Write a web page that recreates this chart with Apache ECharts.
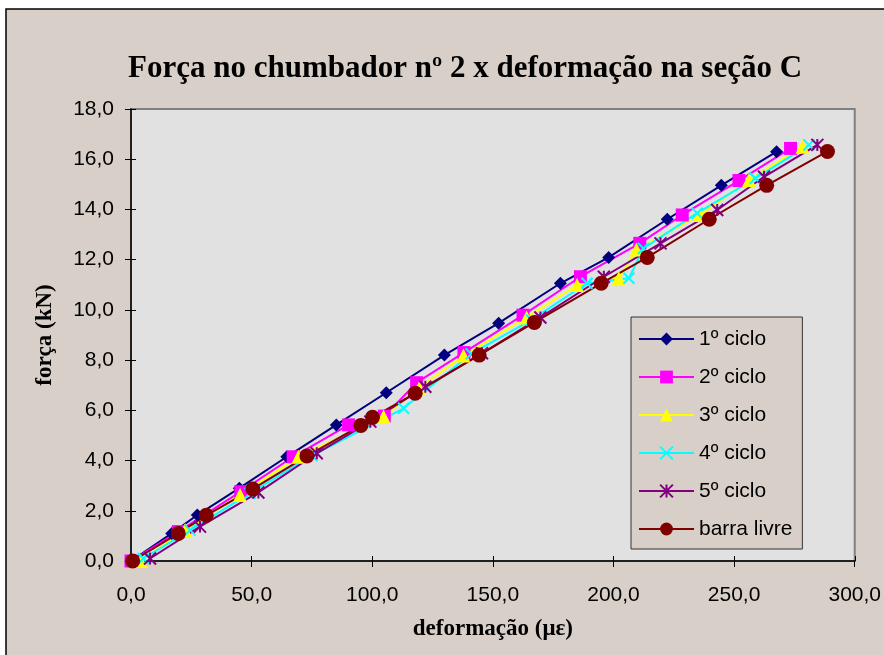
<!DOCTYPE html>
<html><head><meta charset="utf-8">
<script src="https://cdn.jsdelivr.net/npm/echarts@6/dist/echarts.min.js"></script>
<style>html,body{margin:0;padding:0;background:#fff}#c{width:884px;height:655px}</style>
</head><body><div id="c"></div>
<script>
// ---- data ----
const seriesNames = ['1º ciclo','2º ciclo','3º ciclo','4º ciclo','5º ciclo','barra livre'];
const c1x = [0, 16.9, 27.5, 44.9, 64.6, 85.1, 105.8, 129.9, 152.4, 178.0, 198.0, 222.3, 244.7, 267.6];
const c1y = [0.0, 1.10, 1.83, 2.90, 4.15, 5.42, 6.70, 8.20, 9.47, 11.06, 12.09, 13.61, 14.96, 16.30];
const c2x = [0, 19.6, 45.5, 67.2, 90.2, 105.0, 118.4, 138.0, 162.5, 186.3, 210.9, 228.5, 252.0, 273.4];
const c2y = [0.0, 1.17, 2.76, 4.15, 5.42, 5.77, 7.10, 8.30, 9.79, 11.32, 12.65, 13.78, 15.15, 16.43];
const c3x = [4.0, 22.4, 45.2, 69.4, 104.7, 119.5, 137.8, 164.0, 184.9, 202.2, 209.5, 235.8, 256.2, 278.3];
const c3y = [0.0, 1.23, 2.63, 4.15, 5.75, 6.90, 8.18, 9.70, 10.99, 11.26, 12.40, 13.78, 15.17, 16.50];
const c4x = [5.1, 24.5, 49.4, 75.0, 113.0, 141.0, 166.0, 189.0, 206.4, 212.4, 234.7, 258.8, 281.0];
const c4y = [0.1, 1.23, 2.70, 4.20, 6.08, 8.25, 9.60, 11.06, 11.26, 12.45, 13.85, 15.24, 16.57];
const c5x = [7.9, 28.6, 52.8, 77.0, 99.2, 122.0, 145.5, 169.7, 196.0, 219.5, 243.0, 262.4, 284.5];
const c5y = [0.1, 1.37, 2.73, 4.29, 5.55, 6.94, 8.27, 9.70, 11.32, 12.65, 13.98, 15.30, 16.57];
const blx = [0.7, 19.6, 31.2, 50.5, 72.9, 95.3, 100.1, 117.8, 144.3, 167.2, 194.9, 214.0, 239.7, 263.5, 288.7];
const bly = [0.0, 1.10, 1.82, 2.87, 4.18, 5.40, 5.72, 6.68, 8.20, 9.50, 11.06, 12.09, 13.61, 14.96, 16.31];
const xMin = 0, xMax = 300, xStep = 50;
const yMin = 0, yMax = 18, yStep = 2;
const titleText = 'Força no chumbador nº 2 x deformação na seção C';
const xName = 'deformação (με)';
const yName = 'força (kN)';

// ---- chart ----
const zip = (xs, ys) => xs.map((x, i) => [x, ys[i]]);
const fmt = v => v.toFixed(1).replace('.', ',');
const SANS = '"Liberation Sans", Arial, sans-serif';
const SERIF = '"Liberation Serif", "Times New Roman", serif';
const X_PATH = 'path://M0,0L10,10M10,0L0,10';
const AST_PATH = 'path://M5,0L5,10M0,0L10,10M10,0L0,10';

function mk(name, xs, ys, color, symbol, size, stroked) {
  return {
    name, type: 'line', data: zip(xs, ys), symbol, symbolSize: size,
    lineStyle: { color, width: 2 },
    itemStyle: stroked ? { color, borderColor: color, borderWidth: 2 } : { color },
    emphasis: { disabled: true }, animation: false
  };
}

const chart = echarts.init(document.getElementById('c'), null, { renderer: 'canvas' });
const gridRect = { left: 131, right: 29, top: 109, bottom: 94 };
chart.setOption({
  animation: false,
  graphic: [
    { type: 'rect', z: -100, shape: { x: 6, y: 9, width: 900, height: 700 },
      style: { fill: '#d8d0c8', stroke: '#000', lineWidth: 1.5 } },
    { type: 'text', x: 465, y: 69, z: 10,
      style: { text: titleText, fontSize: 31, fontWeight: 'bold', fontFamily: SERIF,
               fill: '#000', align: 'center', verticalAlign: 'middle' } }
  ],
  grid: [
    Object.assign({ show: true, backgroundColor: '#e1e1e1', borderColor: '#808080', borderWidth: 2 }, gridRect),
    Object.assign({ show: false }, gridRect)
  ],
  legend: {
    orient: 'vertical', left: 631, top: 317,
    padding: [11, 10, 9, 7], itemGap: 16, itemWidth: 55, itemHeight: 16,
    backgroundColor: '#d8d0c8', borderColor: '#333', borderWidth: 1,
    textStyle: { fontSize: 21, lineHeight: 22, fontFamily: SANS, color: '#000' },
    data: seriesNames
  },
  xAxis: [
    { type: 'value', gridIndex: 0, min: xMin, max: xMax, interval: xStep,
      name: xName, nameLocation: 'middle', nameGap: 57,
      nameTextStyle: { fontSize: 23, fontWeight: 'bold', fontFamily: SERIF, color: '#000' },
      axisLine: { show: true, lineStyle: { color: '#000', width: 1.5 } },
      axisTick: { show: true, inside: false, length: 6, lineStyle: { color: '#000', width: 1 } },
      axisLabel: { formatter: fmt, fontSize: 21, fontFamily: SANS, color: '#000', margin: 24 },
      splitLine: { show: false } },
    { type: 'value', gridIndex: 1, min: xMin, max: xMax, interval: xStep,
      axisLine: { show: false },
      axisTick: { show: true, inside: true, length: 5, lineStyle: { color: '#000', width: 1 } },
      axisLabel: { show: false }, splitLine: { show: false } }
  ],
  yAxis: [
    { type: 'value', gridIndex: 0, min: yMin, max: yMax, interval: yStep,
      name: yName, nameLocation: 'middle', nameGap: 74, nameRotate: 90,
      nameTextStyle: { fontSize: 23, fontWeight: 'bold', fontFamily: SERIF, color: '#000' },
      axisLine: { show: true, lineStyle: { color: '#000', width: 1.5 } },
      axisTick: { show: true, inside: false, length: 6, lineStyle: { color: '#000', width: 1 } },
      axisLabel: { formatter: fmt, fontSize: 21, fontFamily: SANS, color: '#000', margin: 17 },
      splitLine: { show: false } },
    { type: 'value', gridIndex: 1, min: yMin, max: yMax, interval: yStep,
      axisLine: { show: false },
      axisTick: { show: true, inside: true, length: 5, lineStyle: { color: '#000', width: 1 } },
      axisLabel: { show: false }, splitLine: { show: false } }
  ],
  series: [
    mk(seriesNames[0], c1x, c1y, '#000080', 'diamond', 13, false),
    mk(seriesNames[1], c2x, c2y, '#ff00ff', 'rect', 13, false),
    mk(seriesNames[2], c3x, c3y, '#ffff00', 'triangle', 14, false),
    mk(seriesNames[3], c4x, c4y, '#00ffff', X_PATH, 11, true),
    mk(seriesNames[4], c5x, c5y, '#800080', AST_PATH, 12, true),
    mk(seriesNames[5], blx, bly, '#800000', 'circle', 15, false)
  ]
});
</script>
</body></html>
